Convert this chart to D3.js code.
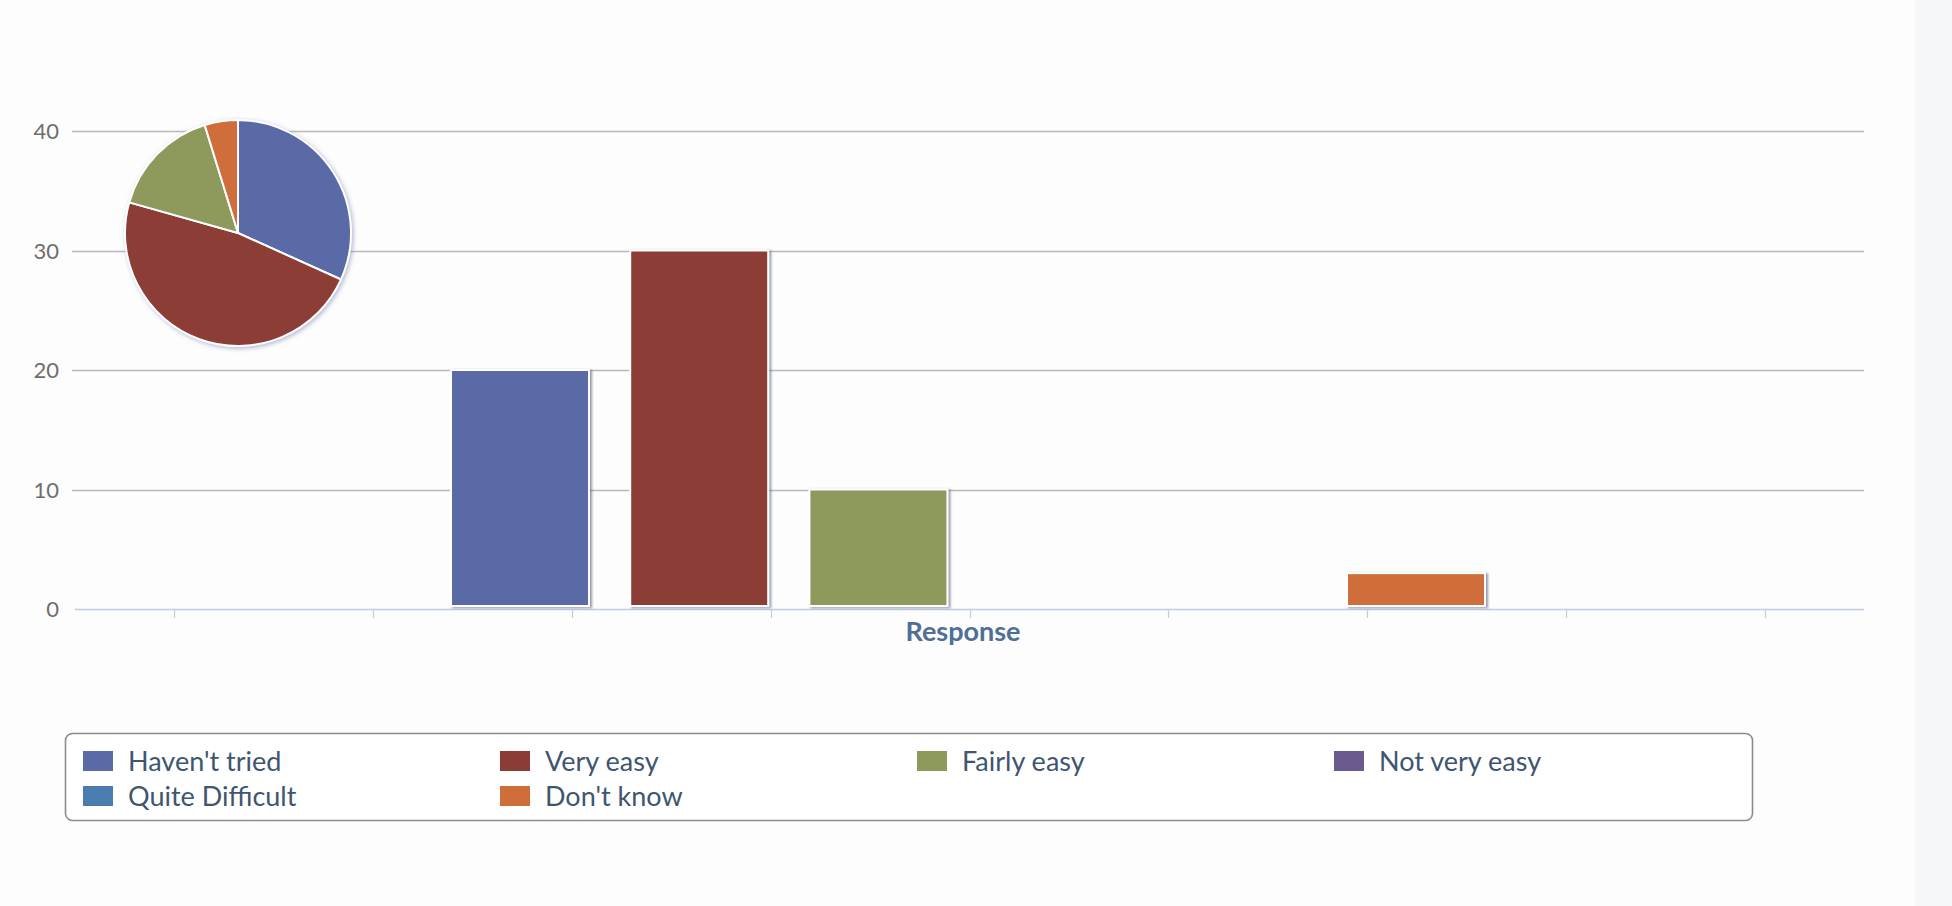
<!DOCTYPE html>
<html>
<head>
<meta charset="utf-8">
<script src="https://cdn.jsdelivr.net/npm/d3@7"></script>
<style>
  html, body { margin: 0; padding: 0; background: #fdfdfd; }
  svg { display: block; font-family: Lato, "Open Sans", sans-serif; }
</style>
</head>
<body>
<svg id="chart" width="1952" height="906"></svg>
<script>
// ---- data ----
const categories = ["Response"];
const seriesNames = ["Haven't tried", "Very easy", "Fairly easy", "Not very easy", "Quite Difficult", "Don't know"];
const seriesValues = [20, 30, 10, 0, 0, 3];
const seriesColors = ["#5a6aa6", "#8c3c36", "#8e9a5c", "#6b5a90", "#4a7cb0", "#cf6e3a"];
const yTicks = [0, 10, 20, 30, 40];
const xTickSlots = [0.5, 1.5, 2.5, 3.5, 4.5, 5.5, 6.5, 7.5, 8.5];
const xAxisTitle = "Response";

const svg = d3.select("#chart");
const W = 1952, H = 906;

const defs = svg.append("defs");
const sh = defs.append("filter").attr("id", "shadow").attr("x", "-10%").attr("y", "-10%").attr("width", "130%").attr("height", "130%");
sh.append("feDropShadow").attr("dx", 2).attr("dy", 1).attr("stdDeviation", 1.2).attr("flood-color", "#2a3060").attr("flood-opacity", 0.5);
const psh = defs.append("filter").attr("id", "pshadow").attr("x", "-20%").attr("y", "-20%").attr("width", "140%").attr("height", "140%");
psh.append("feDropShadow").attr("dx", 1.5).attr("dy", 1.5).attr("stdDeviation", 2).attr("flood-color", "#8088b0").attr("flood-opacity", 0.6);

// background
svg.append("rect").attr("width", W).attr("height", H).attr("fill", "#fdfdfd");
svg.append("rect").attr("x", 1915).attr("width", W - 1915).attr("height", H).attr("fill", "#f6f7f9");

const plot = { left: 72, right: 1864, top: 131, bottom: 609 };

const y = d3.scaleLinear().domain([0, 40]).range([plot.bottom, plot.top]);
const x0 = d3.scaleBand().domain(categories).range([plot.left, plot.right]).paddingInner(0).paddingOuter(1/3);
const x1 = d3.scaleBand().domain(seriesNames).range([0, x0.bandwidth()]).paddingInner(0.23).paddingOuter(0.115);
const xt = d3.scaleLinear().domain([0, 9]).range([plot.left + 3, plot.right]);

// grid lines
svg.append("g").selectAll("line").data(yTicks.filter(d => d > 0)).join("line")
  .attr("x1", plot.left).attr("x2", plot.right)
  .attr("y1", d => Math.round(y(d)) + 0.5).attr("y2", d => Math.round(y(d)) + 0.5)
  .attr("stroke", "#b9b9bd").attr("stroke-width", 1.3);

// y labels
svg.append("g").selectAll("text").data(yTicks).join("text")
  .attr("x", 59).attr("y", d => y(d) + 8)
  .attr("text-anchor", "end")
  .attr("font-size", 22).attr("fill", "#6e6e6e")
  .text(d => d);

// x axis line + ticks
svg.append("line").attr("x1", plot.left + 3).attr("x2", plot.right)
  .attr("y1", plot.bottom + 0.5).attr("y2", plot.bottom + 0.5)
  .attr("stroke", "#c0cce0").attr("stroke-width", 1.5);
svg.append("g").selectAll("line").data(xTickSlots).join("line")
  .attr("x1", d => Math.round(xt(d)) + 0.5).attr("x2", d => Math.round(xt(d)) + 0.5)
  .attr("y1", plot.bottom).attr("y2", plot.bottom + 9)
  .attr("stroke", "#c0cce0").attr("stroke-width", 1.2);

// bars
const barData = seriesNames.map((n, i) => ({ name: n, value: seriesValues[i], color: seriesColors[i], cat: categories[0] }));
svg.append("g").selectAll("rect").data(barData.filter(d => d.value > 0)).join("rect")
  .attr("x", d => x0(d.cat) + x1(d.name))
  .attr("width", x1.bandwidth())
  .attr("y", d => y(d.value))
  .attr("height", d => y(0) - y(d.value) - 3)
  .attr("fill", d => d.color)
  .attr("stroke", "#ffffff").attr("stroke-width", 2)
  .attr("filter", "url(#shadow)");

// x axis title
svg.append("text").attr("x", x0(categories[0]) + x0.bandwidth() / 2 - 5).attr("y", 641)
  .attr("text-anchor", "middle").attr("font-size", 27).attr("font-weight", "bold")
  .attr("fill", "#4f6f96").text(xAxisTitle);

// pie
const pie = d3.pie().sort(null).value(d => d.value);
const arc = d3.arc().innerRadius(0).outerRadius(113);
svg.append("g").attr("transform", "translate(238,233)").attr("filter", "url(#pshadow)")
  .selectAll("path").data(pie(barData.filter(d => d.value > 0))).join("path")
  .attr("d", arc).attr("fill", d => d.data.color)
  .attr("stroke", "#ffffff").attr("stroke-width", 2).attr("stroke-linejoin", "round");

// legend
svg.append("rect").attr("x", 65.5).attr("y", 733.5).attr("width", 1687).attr("height", 87)
  .attr("rx", 7).attr("fill", "#ffffff").attr("stroke", "#8c8c8c").attr("stroke-width", 1.6);
const legX = d3.scaleLinear().domain([0, 4]).range([83, 1751]);
const leg = svg.append("g").selectAll("g").data(barData).join("g")
  .attr("transform", (d, i) => `translate(${legX(i % 4)},${i < 4 ? 751 : 786})`);
leg.append("rect").attr("width", 30).attr("height", 20).attr("fill", d => d.color);
leg.append("text").attr("x", 45).attr("y", 20).attr("font-size", 27).attr("fill", "#3e5670").text(d => d.name);
</script>
</body>
</html>
